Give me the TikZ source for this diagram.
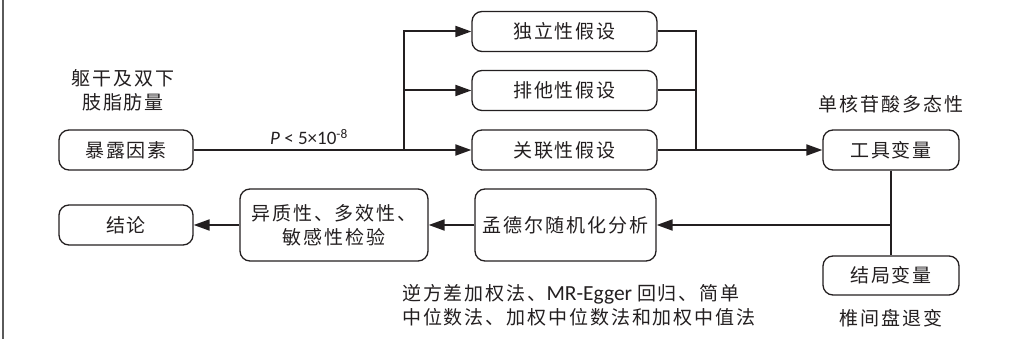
\documentclass[tikz,border=0pt]{standalone}
\usepackage{fontspec}
\setmainfont{Carlito}
\newfontfamily\cjk[LetterSpace=10]{Noto Sans CJK SC}
\usetikzlibrary{arrows.meta}
\definecolor{ink}{HTML}{231F20}
\definecolor{edge}{HTML}{5A5A5A}
\begin{document}
\begin{tikzpicture}[x=1pt,y=-1pt,
  box/.style={draw=ink, line width=1.3pt, rounded corners=10pt, minimum height=40pt, inner sep=0pt, text=ink, align=center, font={\cjk\fontsize{19}{24}\selectfont}},
  lbl/.style={text=ink, align=center, inner sep=0pt, font={\cjk\fontsize{19}{24}\selectfont}},
  conn/.style={draw=ink, line width=2pt},
  arr/.style={conn, -{Triangle[length=16pt,width=11pt]}}]
\useasboundingbox (0,0) rectangle (1013,339);
\coordinate (ltop) at (3,0);
\coordinate (lbot) at (3,339);
\draw[edge, line width=2pt] (ltop) -- (lbot);

\node[box, minimum width=134pt] (expo) at (126,150) {暴露因素};
\node[box, minimum width=134pt] (concl) at (126,225) {结论};
\node[box, minimum width=188pt, minimum height=72pt] (het) at (334,225) {异质性、多效性、\\敏感性检验};
\node[box, minimum width=181pt, minimum height=72pt] (mr) at (565.5,225) {孟德尔随机化分析};
\node[box, minimum width=185pt] (h1) at (564.5,31.5) {独立性假设};
\node[box, minimum width=185pt] (h2) at (564.5,90.5) {排他性假设};
\node[box, minimum width=185pt] (h3) at (564.5,150) {关联性假设};
\node[box, minimum width=136pt] (iv) at (891,150) {工具变量};
\node[box, minimum width=136pt, minimum height=39pt] (out) at (891,275.5) {结局变量};

\node[lbl] (expolbl) at (123,90) {躯干及双下\\肢脂肪量};
\node[lbl] (ivlbl) at (891,104) {单核苷酸多态性};
\node[lbl] (outlbl) at (891,318) {椎间盘退变};
\node[lbl, align=left, anchor=west] (methods) at (402,305) {逆方差加权法、{\fontspec{Carlito}\fontsize{21.5}{24}\selectfont MR-Egger }回归、简单\\中位数法、加权中位数法和加权中值法};
\node[text=ink, inner sep=0pt, font={\fontsize{19}{20}\selectfont}] (plbl) at (309,137) {\textit{P} < 5×10\textsuperscript{-8}};

\coordinate (bx) at (404,150);
\coordinate (mx) at (696,150);
\draw[arr] (expo.east) -- (h3.west);
\draw[arr] (bx) |- (h1.west);
\draw[arr] (bx |- h2.west) -- (h2.west);
\draw[conn] (h1.east) -| (mx);
\draw[conn] (h2.east) -- (h2.east -| mx);
\draw[arr] (h3.east) -- (iv.west);
\draw[conn] (iv.south) -- (out.north);
\draw[arr] (iv.south |- mr.east) -- (mr.east);
\draw[arr] (mr.west) -- (het.east);
\draw[arr] (het.west) -- (concl.east);
\end{tikzpicture}
\end{document}
